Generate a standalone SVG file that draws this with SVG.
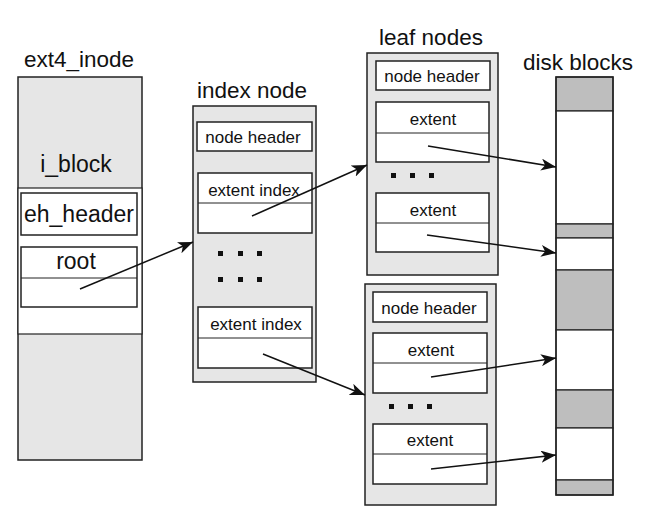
<svg xmlns="http://www.w3.org/2000/svg" width="646" height="522" viewBox="0 0 646 522">
<style>
text{font-family:"Liberation Sans",Arial,sans-serif;fill:#111;text-anchor:middle}
.title{font-size:22.5px}
.big{font-size:23px}
.lbl{font-size:17px}
.node{fill:#e6e6e6;stroke:#222;stroke-width:1.5}
.wbox{fill:#fff;stroke:#222;stroke-width:1.5}
.div{stroke:#222;stroke-width:1}
.gray{fill:#bebebe;stroke:#222;stroke-width:1.2}
.white{fill:#fff;stroke:#222;stroke-width:1.2}
.dot{fill:#111}
.conn{stroke:#111;stroke-width:1.5;fill:none;marker-end:url(#ah)}
</style>
<defs>
<marker id="ah" markerUnits="userSpaceOnUse" markerWidth="16" markerHeight="12" refX="15" refY="6" orient="auto">
<path d="M0,0 L15,6 L0,12 L4,6 z" fill="#111"/>
</marker>
</defs>
<rect width="646" height="522" fill="#fff"/>

<g id="ext4_inode">
<text class="title" x="79" y="67">ext4_inode</text>
<rect class="node" x="18" y="77" width="124" height="383"/>
<rect x="18" y="188" width="124" height="146" fill="#fff" stroke="#222" stroke-width="1.2"/>
<text class="big" x="76" y="172">i_block</text>
<rect class="wbox" x="21" y="193" width="116" height="42"/>
<text class="big" x="79" y="222">eh_header</text>
<rect class="wbox" x="21" y="247" width="116" height="60"/>
<line class="div" x1="21" y1="278" x2="137" y2="278"/>
<text class="big" x="76" y="269">root</text>
</g>

<g id="index_node">
<text class="title" x="252" y="98">index node</text>
<rect class="node" x="193" y="106" width="123" height="276"/>
<rect class="wbox" x="197" y="122" width="115" height="29"/>
<text class="lbl" x="253" y="143">node header</text>
<rect class="wbox" x="198" y="173" width="114" height="60"/>
<line class="div" x1="198" y1="203" x2="312" y2="203"/>
<text class="lbl" x="254" y="196">extent index</text>
<rect class="dot" x="218" y="251" width="5" height="5"/>
<rect class="dot" x="238" y="251" width="5" height="5"/>
<rect class="dot" x="257" y="251" width="5" height="5"/>
<rect class="dot" x="218" y="277" width="5" height="5"/>
<rect class="dot" x="238" y="277" width="5" height="5"/>
<rect class="dot" x="257" y="277" width="5" height="5"/>
<rect class="wbox" x="198" y="307" width="114" height="61"/>
<line class="div" x1="198" y1="338" x2="312" y2="338"/>
<text class="lbl" x="256" y="330">extent index</text>
</g>

<g id="leaf_node_1">
<text class="title" x="431" y="45">leaf nodes</text>
<rect class="node" x="367" y="53" width="131" height="222"/>
<rect class="wbox" x="376" y="61" width="114" height="29"/>
<text class="lbl" x="432" y="82">node header</text>
<rect class="wbox" x="376" y="102" width="113" height="60"/>
<line class="div" x1="376" y1="133" x2="489" y2="133"/>
<text class="lbl" x="433" y="125">extent</text>
<rect class="dot" x="391" y="173" width="5" height="5"/>
<rect class="dot" x="410" y="173" width="5" height="5"/>
<rect class="dot" x="429" y="173" width="5" height="5"/>
<rect class="wbox" x="376" y="193" width="113" height="59"/>
<line class="div" x1="376" y1="223" x2="489" y2="223"/>
<text class="lbl" x="433" y="216">extent</text>
</g>

<g id="leaf_node_2">
<rect class="node" x="365" y="284" width="131" height="221"/>
<rect class="wbox" x="373" y="292" width="114" height="30"/>
<text class="lbl" x="429" y="314">node header</text>
<rect class="wbox" x="373" y="333" width="114" height="60"/>
<line class="div" x1="373" y1="363" x2="487" y2="363"/>
<text class="lbl" x="431" y="356">extent</text>
<rect class="dot" x="389" y="404" width="5" height="5"/>
<rect class="dot" x="408" y="404" width="5" height="5"/>
<rect class="dot" x="427" y="404" width="5" height="5"/>
<rect class="wbox" x="373" y="424" width="114" height="60"/>
<line class="div" x1="373" y1="454" x2="487" y2="454"/>
<text class="lbl" x="430" y="446">extent</text>
</g>

<g id="disk_blocks">
<text class="title" x="578" y="70">disk blocks</text>
<rect class="gray" x="556" y="77" width="57" height="34"/>
<rect class="white" x="556" y="111" width="57" height="113"/>
<rect class="gray" x="556" y="224" width="57" height="14"/>
<rect class="white" x="556" y="238" width="57" height="32"/>
<rect class="gray" x="556" y="270" width="57" height="60"/>
<rect class="white" x="556" y="330" width="57" height="60"/>
<rect class="gray" x="556" y="390" width="57" height="38"/>
<rect class="white" x="556" y="428" width="57" height="52"/>
<rect class="gray" x="556" y="480" width="57" height="15"/>
<rect x="556" y="77" width="57" height="418" fill="none" stroke="#222" stroke-width="1.5"/>
</g>

<g id="connectors">
<line class="conn" x1="80" y1="289" x2="193" y2="242"/>
<line class="conn" x1="252" y1="216" x2="367" y2="165"/>
<line class="conn" x1="263" y1="354" x2="365" y2="395"/>
<line class="conn" x1="428" y1="146" x2="556" y2="167"/>
<line class="conn" x1="427" y1="235" x2="556" y2="253"/>
<line class="conn" x1="431" y1="377" x2="556" y2="358"/>
<line class="conn" x1="431" y1="469" x2="556" y2="455"/>
</g>
</svg>
